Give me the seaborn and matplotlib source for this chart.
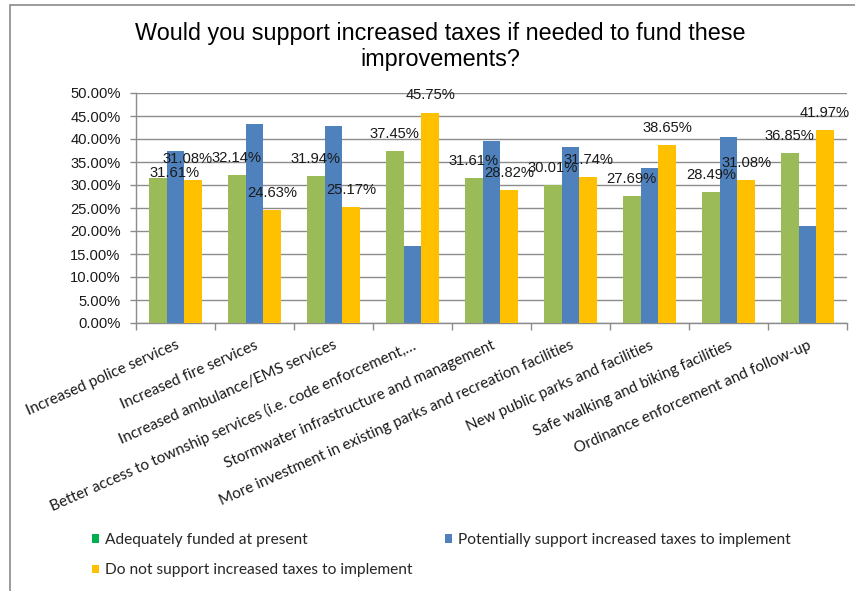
import matplotlib
matplotlib.use("Agg")
import matplotlib.pyplot as plt
import seaborn as sns
import pandas as pd
from matplotlib.patches import Rectangle, Patch
from matplotlib.ticker import FuncFormatter, FixedLocator

# ---- data -------------------------------------------------------------
categories = [
    "Increased police services",
    "Increased fire services",
    "Increased ambulance/EMS services",
    "Better access to township services (i.e. code enforcement,\u2026",
    "Stormwater infrastructure and management",
    "More investment in existing parks and recreation facilities",
    "New public parks and facilities",
    "Safe walking and biking facilities",
    "Ordinance enforcement and follow-up",
]
series_names = [
    "Adequately funded at present",
    "Potentially support increased taxes to implement",
    "Do not support increased taxes to implement",
]
adequately_funded = [31.61, 32.14, 31.94, 37.45, 31.61, 30.01, 27.69, 28.49, 36.85]
potentially_support = [37.31, 43.23, 42.89, 16.80, 39.57, 38.25, 33.66, 40.43, 21.18]
do_not_support = [31.08, 24.63, 25.17, 45.75, 28.82, 31.74, 38.65, 31.08, 41.97]
y_ticks = [0, 5, 10, 15, 20, 25, 30, 35, 40, 45, 50]

title = "Would you support increased taxes if needed to fund these\nimprovements?"

# ---- styling ----------------------------------------------------------
bar_colors = ["#9BBB59", "#4F81BD", "#FFC000"]
legend_colors = ["#00B050", "#4F81BD", "#FFC000"]
grid_color = "#8C8C8C"
sans = ["Liberation Sans", "DejaVu Sans"]
cal = ["Lato", "DejaVu Sans"]

sns.set_theme(style="white")
plt.rcParams["font.family"] = sans

df = pd.DataFrame({
    "category": categories * 3,
    "series": [series_names[0]] * 9 + [series_names[1]] * 9 + [series_names[2]] * 9,
    "value": adequately_funded + potentially_support + do_not_support,
})

fig = plt.figure(figsize=(8.55, 5.91), dpi=100)
ax = fig.add_axes([136 / 855, 1 - 323 / 591, (847 - 136) / 855, (323 - 93) / 591])

sns.barplot(
    data=df, x="category", y="value", hue="series",
    hue_order=series_names, order=categories,
    palette=bar_colors, width=0.67, gap=0, saturation=1,
    errorbar=None, legend=False, ax=ax, zorder=3,
)
for p in ax.patches:
    p.set_edgecolor("none")

ax.set_xlim(-0.5, len(categories) - 0.5)
ax.set_ylim(0, 50)
ax.yaxis.set_major_locator(FixedLocator(y_ticks))
ax.yaxis.set_major_formatter(FuncFormatter(lambda v, _: f"{v:.2f}%"))
ax.grid(axis="y", color=grid_color, linewidth=1.0, zorder=0)
ax.set_axisbelow(True)
ax.set_xlabel("")
ax.set_ylabel("")

for side in ("top", "right"):
    ax.spines[side].set_visible(False)
for side in ("left", "bottom"):
    ax.spines[side].set_color(grid_color)
    ax.spines[side].set_linewidth(1.0)

ax.tick_params(axis="y", which="major", left=True, length=4, width=1,
               color=grid_color, labelsize=10.6, labelcolor="#1a1a1a", pad=7)
ax.set_xticks(range(len(categories)))
ax.set_xticklabels(categories, rotation=24, ha="right", rotation_mode="anchor",
                   fontfamily=cal, fontsize=11, color="#1a1a1a")
ax.tick_params(axis="x", which="major", bottom=False, length=0, pad=11)
ax.xaxis.set_minor_locator(FixedLocator([i - 0.5 for i in range(len(categories) + 1)]))
ax.tick_params(axis="x", which="minor", bottom=True, length=5, width=1, color=grid_color)

# ---- value labels for the first and last series ------------------------
n_hue = len(series_names)
bar_w = 0.67 / n_hue
# hand-placed labels in the first group (dx points, dy points)
nudges = {(0, 0): (12, -9), (0, 2): (-4, 3)}
for s_idx, values in ((0, adequately_funded), (2, do_not_support)):
    for c_idx, v in enumerate(values):
        x = c_idx + (s_idx - (n_hue - 1) / 2) * bar_w
        dx, dy = nudges.get((c_idx, s_idx), (0, 0))
        ax.annotate(f"{v:.2f}%", xy=(x, v), xytext=(dx, 12.3 + dy),
                    textcoords="offset points", ha="center", va="center",
                    fontsize=10.6, color="#1a1a1a", zorder=5)

# ---- title ------------------------------------------------------------
fig.text(440 / 855, 1 - 22 / 591, title, ha="center", va="top",
         fontsize=16.8, color="black", linespacing=1.18)

# ---- legend -----------------------------------------------------------
handles = [Patch(facecolor=c, edgecolor="none", label=n)
           for c, n in zip(legend_colors, series_names)]
order = [0, 2, 1]
fig.legend([handles[i] for i in order], [series_names[i] for i in order],
           ncol=2, loc="upper left", bbox_to_anchor=(92 / 855, 1 - 533 / 591),
           frameon=False, prop={"family": cal, "size": 11.2},
           handlelength=0.45, handleheight=0.45, handletextpad=0.38,
           columnspacing=2.1, labelspacing=1.05, borderaxespad=0, borderpad=0)

# ---- chart frame ------------------------------------------------------
fig.add_artist(Rectangle((10 / 855, -0.5), 2, 0.5 + (1 - 5 / 591),
                         transform=fig.transFigure, fill=False,
                         edgecolor="#8a8a8a", linewidth=1.2, clip_on=False))

fig.savefig("out.png", dpi=100)
